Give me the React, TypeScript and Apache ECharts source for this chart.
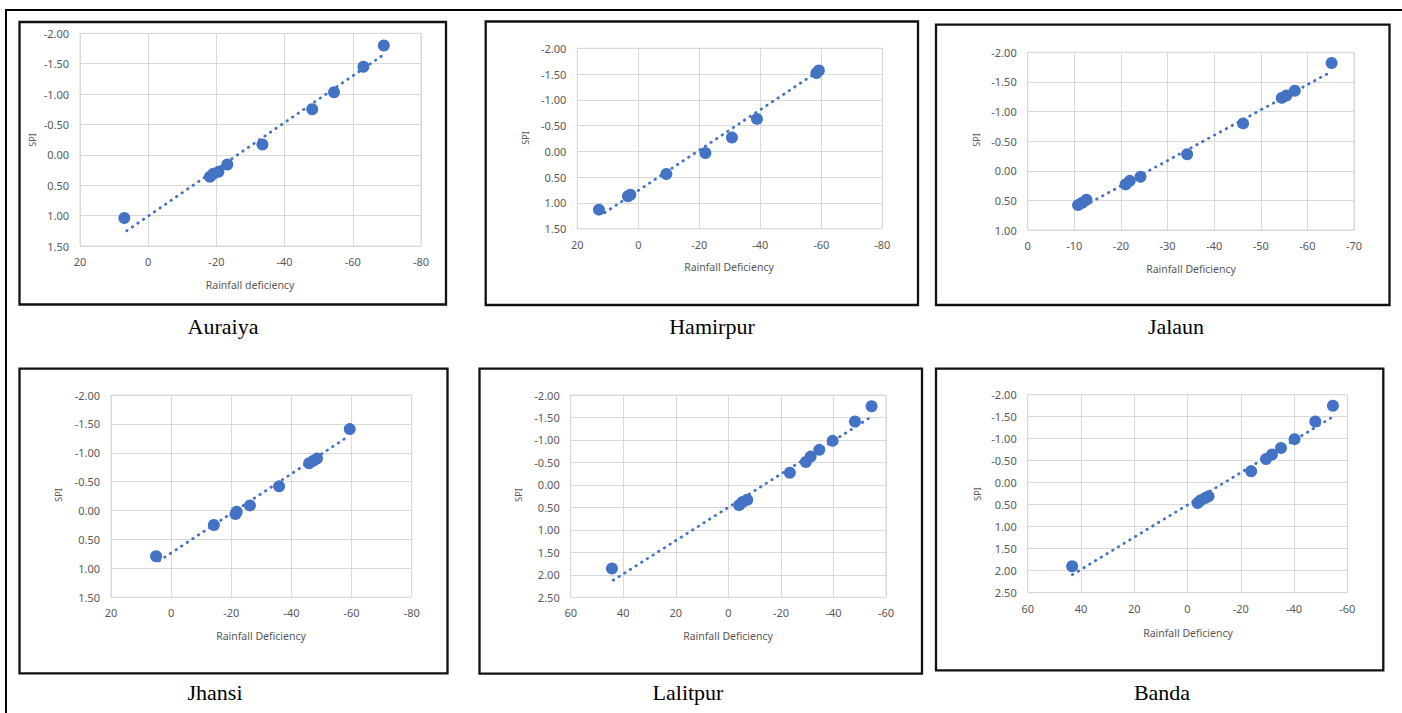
import { useEffect, useRef } from "react";
import * as echarts from "echarts";

// ---------- Data ----------
const auraiyaRain = [7.0, -18.1, -19.1, -20.6, -23.2, -33.5, -48.1, -54.5, -63.1, -69.1];
const auraiyaSpi = [1.04, 0.36, 0.31, 0.28, 0.16, -0.17, -0.75, -1.03, -1.45, -1.8];
const auraiyaTrendRain = [6.3, -69.6];
const auraiyaTrendSpi = [1.25, -1.67];
const auraiyaXTicks = [20, 0, -20, -40, -60, -80];
const auraiyaYTicks = [-2.0, -1.5, -1.0, -0.5, 0.0, 0.5, 1.0, 1.5];

const hamirpurRain = [12.9, 3.4, 2.6, -9.2, -22.0, -30.7, -38.9, -58.4, -59.2];
const hamirpurSpi = [1.13, 0.87, 0.84, 0.44, 0.03, -0.27, -0.63, -1.52, -1.57];
const hamirpurTrendRain = [11.0, -59.2];
const hamirpurTrendSpi = [1.19, -1.56];
const hamirpurXTicks = [20, 0, -20, -40, -60, -80];
const hamirpurYTicks = [-2.0, -1.5, -1.0, -0.5, 0.0, 0.5, 1.0, 1.5];

const jalaunRain = [-10.8, -11.7, -12.6, -21.0, -21.9, -24.2, -34.2, -46.2, -54.5, -55.5, -57.3, -65.2];
const jalaunSpi = [0.58, 0.54, 0.49, 0.23, 0.17, 0.1, -0.28, -0.8, -1.23, -1.27, -1.35, -1.82];
const jalaunTrendRain = [-11.0, -65.3];
const jalaunTrendSpi = [0.64, -1.68];
const jalaunXTicks = [0, -10, -20, -30, -40, -50, -60, -70];
const jalaunYTicks = [-2.0, -1.5, -1.0, -0.5, 0.0, 0.5, 1.0];

const jhansiRain = [5.0, -14.2, -21.4, -21.8, -26.2, -35.9, -45.9, -47.2, -48.5, -59.4];
const jhansiSpi = [0.79, 0.25, 0.06, 0.02, -0.09, -0.42, -0.82, -0.86, -0.9, -1.41];
const jhansiTrendRain = [4.0, -58.5];
const jhansiTrendSpi = [0.87, -1.27];
const jhansiXTicks = [20, 0, -20, -40, -60, -80];
const jhansiYTicks = [-2.0, -1.5, -1.0, -0.5, 0.0, 0.5, 1.0, 1.5];

const lalitpurRain = [44.3, -4.1, -5.4, -7.2, -23.4, -29.5, -31.3, -34.6, -39.7, -48.2, -54.5];
const lalitpurSpi = [1.86, 0.45, 0.38, 0.33, -0.27, -0.51, -0.63, -0.78, -0.98, -1.41, -1.75];
const lalitpurTrendRain = [43.8, -54.8];
const lalitpurTrendSpi = [2.12, -1.53];
const lalitpurXTicks = [60, 40, 20, 0, -20, -40, -60];
const lalitpurYTicks = [-2.0, -1.5, -1.0, -0.5, 0.0, 0.5, 1.0, 1.5, 2.0, 2.5];

const bandaRain = [43.3, -3.8, -5.0, -6.6, -7.9, -23.9, -29.5, -31.7, -35.1, -40.2, -48.0, -54.6];
const bandaSpi = [1.9, 0.46, 0.4, 0.35, 0.31, -0.26, -0.54, -0.64, -0.79, -0.99, -1.39, -1.75];
const bandaTrendRain = [43.2, -55.2];
const bandaTrendSpi = [2.09, -1.52];
const bandaXTicks = [60, 40, 20, 0, -20, -40, -60];
const bandaYTicks = [-2.0, -1.5, -1.0, -0.5, 0.0, 0.5, 1.0, 1.5, 2.0, 2.5];

const panelNames = ["Auraiya", "Hamirpur", "Jalaun", "Jhansi", "Lalitpur", "Banda"];
const xTitles = [
  "Rainfall deficiency",
  "Rainfall Deficiency",
  "Rainfall Deficiency",
  "Rainfall Deficiency",
  "Rainfall Deficiency",
  "Rainfall Deficiency",
];

// ---------- Layout (page pixels) ----------
type Layout = {
  box: [number, number, number, number];
  grid: [number, number, number, number]; // left, top, right, bottom
  spi: [number, number];
  xt: [number, number];
  label: [number, number];
};
const layouts: Layout[] = [
  { box: [19.5, 22, 426.5, 282.5], grid: [80, 33.3, 421, 246], spi: [32, 140], xt: [250, 285], label: [223, 326] },
  { box: [485.7, 21.5, 432.3, 283.5], grid: [577.3, 48.3, 882.3, 228.7], spi: [525, 138], xt: [729, 267], label: [712, 326] },
  { box: [936, 24.7, 453.5, 280.3], grid: [1027.7, 52.3, 1354, 230], spi: [976, 140], xt: [1191, 269], label: [1176, 326] },
  { box: [19.5, 368.7, 428, 304.6], grid: [111, 395, 411.7, 597.3], spi: [58, 495], xt: [261, 636], label: [215, 692] },
  { box: [479.5, 368.7, 442.5, 305], grid: [570.7, 395, 886, 597.3], spi: [518, 495], xt: [728, 636], label: [688, 692] },
  { box: [936, 368.7, 447.3, 301.6], grid: [1027.7, 394.7, 1347.3, 592.7], spi: [977, 494], xt: [1188, 633], label: [1162, 692] },
];

const panels = [
  { rain: auraiyaRain, spi: auraiyaSpi, tr: auraiyaTrendRain, ts: auraiyaTrendSpi, xt: auraiyaXTicks, yt: auraiyaYTicks },
  { rain: hamirpurRain, spi: hamirpurSpi, tr: hamirpurTrendRain, ts: hamirpurTrendSpi, xt: hamirpurXTicks, yt: hamirpurYTicks },
  { rain: jalaunRain, spi: jalaunSpi, tr: jalaunTrendRain, ts: jalaunTrendSpi, xt: jalaunXTicks, yt: jalaunYTicks },
  { rain: jhansiRain, spi: jhansiSpi, tr: jhansiTrendRain, ts: jhansiTrendSpi, xt: jhansiXTicks, yt: jhansiYTicks },
  { rain: lalitpurRain, spi: lalitpurSpi, tr: lalitpurTrendRain, ts: lalitpurTrendSpi, xt: lalitpurXTicks, yt: lalitpurYTicks },
  { rain: bandaRain, spi: bandaSpi, tr: bandaTrendRain, ts: bandaTrendSpi, xt: bandaXTicks, yt: bandaYTicks },
];

const BLUE = "#4472C4";
const GRID_GRAY = "#d9d9d9";
const TEXT_GRAY = "#595959";
const SANS = "'Noto Sans', 'Open Sans', sans-serif";

export default function App() {
  const ref = useRef<HTMLDivElement>(null);

  useEffect(() => {
    if (!ref.current) return;
    const chart = echarts.init(ref.current, undefined, { renderer: "svg" });

    const grids: any[] = [];
    const xAxes: any[] = [];
    const yAxes: any[] = [];
    const series: any[] = [];
    const graphics: any[] = [];

    // outer frame lines
    graphics.push({
      type: "line",
      shape: { x1: 5, y1: 10, x2: 1402, y2: 10 },
      style: { stroke: "#000", lineWidth: 2 },
    });
    graphics.push({
      type: "line",
      shape: { x1: 6, y1: 10, x2: 6, y2: 713 },
      style: { stroke: "#000", lineWidth: 2 },
    });

    panels.forEach((p, i) => {
      const L = layouts[i];
      const [gl, gt, gr, gb] = L.grid;
      grids.push({
        left: gl,
        top: gt,
        width: gr - gl,
        height: gb - gt,
        show: true,
        borderColor: GRID_GRAY,
        borderWidth: 1,
        backgroundColor: "#fff",
        containLabel: false,
      });
      const xmin = Math.min(...p.xt);
      const xmax = Math.max(...p.xt);
      const xint = Math.abs(p.xt[1] - p.xt[0]);
      const ymin = Math.min(...p.yt);
      const ymax = Math.max(...p.yt);
      const yint = Math.abs(p.yt[1] - p.yt[0]);
      xAxes.push({
        gridIndex: i,
        type: "value",
        min: xmin,
        max: xmax,
        interval: xint,
        inverse: true,
        axisLine: { show: false },
        axisTick: { show: false },
        splitLine: { show: true, lineStyle: { color: GRID_GRAY, width: 1 } },
        axisLabel: {
          color: TEXT_GRAY,
          fontSize: 11,
          fontFamily: SANS,
          margin: 10,
          formatter: (v: number) => String(Math.round(v)),
        },
      });
      yAxes.push({
        gridIndex: i,
        type: "value",
        min: ymin,
        max: ymax,
        interval: yint,
        inverse: true,
        axisLine: { show: false },
        axisTick: { show: false },
        splitLine: { show: true, lineStyle: { color: GRID_GRAY, width: 1 } },
        axisLabel: {
          color: TEXT_GRAY,
          fontSize: 11,
          fontFamily: SANS,
          margin: 11,
          formatter: (v: number) => (Math.abs(v) < 1e-9 ? 0 : v).toFixed(2),
        },
      });
      series.push({
        type: "scatter",
        xAxisIndex: i,
        yAxisIndex: i,
        data: p.rain.map((x, k) => [x, p.spi[k]]),
        symbolSize: 12,
        itemStyle: { color: BLUE, opacity: 1 },
        z: 2,
        silent: true,
      });
      series.push({
        type: "line",
        xAxisIndex: i,
        yAxisIndex: i,
        data: p.tr.map((x, k) => [x, p.ts[k]]),
        symbol: "none",
        lineStyle: { color: BLUE, width: 2.8, type: [0.5, 6.2], cap: "round" },
        z: 3,
        silent: true,
      });

      // panel frame
      graphics.push({
        type: "rect",
        shape: { x: L.box[0], y: L.box[1], width: L.box[2], height: L.box[3] },
        style: { fill: "rgba(0,0,0,0)", stroke: "#111", lineWidth: 2.3 },
        z: 10,
      });
      // SPI label
      graphics.push({
        type: "text",
        x: L.spi[0],
        y: L.spi[1],
        rotation: Math.PI / 2,
        style: {
          text: "SPI",
          fill: TEXT_GRAY,
          font: `9px ${SANS}`,
          textAlign: "center",
          textVerticalAlign: "middle",
        },
      });
      // x title
      graphics.push({
        type: "text",
        x: L.xt[0],
        y: L.xt[1],
        style: {
          text: xTitles[i],
          fill: TEXT_GRAY,
          font: `10.5px ${SANS}`,
          textAlign: "center",
          textVerticalAlign: "middle",
        },
      });
      // panel name
      graphics.push({
        type: "text",
        x: L.label[0],
        y: L.label[1],
        style: {
          text: panelNames[i],
          fill: "#000",
          font: `22px 'Liberation Serif', 'Times New Roman', serif`,
          textAlign: "center",
          textVerticalAlign: "middle",
        },
      });
    });

    chart.setOption({
      animation: false,
      backgroundColor: "#fff",
      grid: grids,
      xAxis: xAxes,
      yAxis: yAxes,
      series,
      graphic: { elements: graphics },
    });

    return () => chart.dispose();
  }, []);

  return (
    <div
      ref={ref}
      style={{ position: "absolute", left: 0, top: 0, width: 1402, height: 713, background: "#fff" }}
    />
  );
}
